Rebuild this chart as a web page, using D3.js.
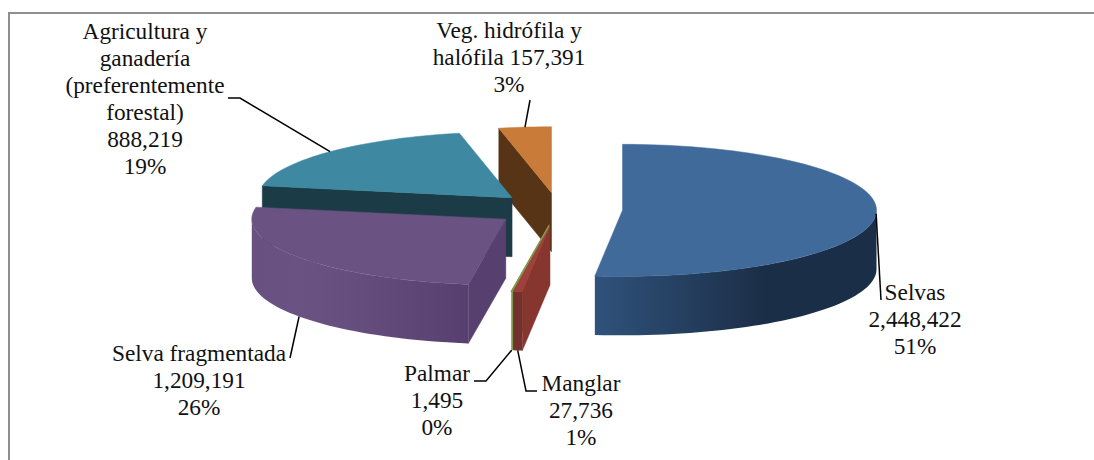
<!DOCTYPE html>
<html>
<head>
<meta charset="utf-8">
<script src="https://cdn.jsdelivr.net/npm/d3@7/dist/d3.min.js"></script>
<style>
html,body{margin:0;padding:0;background:#fff;}
svg{display:block;}
text{font-family:"Liberation Serif","Times New Roman",serif;font-size:23.3px;fill:#111;text-anchor:middle;}
</style>
</head>
<body>
<svg id="chart" width="1094" height="460"></svg>
<script>
// Data (clockwise from 12 o'clock)
const categories = ["Selvas","Manglar","Palmar","Selva fragmentada","Agricultura y ganadería (preferentemente forestal)","Veg. hidrófila y halófila"];
const values = [2448422,27736,1495,1209191,888219,157391];
const percentLabels = ["51%","1%","0%","26%","19%","3%"];
const nameLines = [["Selvas"],["Manglar"],["Palmar"],["Selva fragmentada"],["Agricultura y","ganadería","(preferentemente","forestal)"],["Veg. hidrófila y","halófila"]];

// Styles
const topColors = ["#406a9a","#9e403c","#7f9c4c","#6a5283","#3e88a2","#c97b39"];
const radialWallColors = ["#1b2e47","#86352f","#7f9c4c","#574070","#1b3b47","#573416"];
const outerWallStops = [
  [[0,"#30527b"],[0.6,"#1b2e47"],[1,"#1b2e47"]],
  [[0,"#73302c"],[1,"#73302c"]],
  [[0,"#7f9c4c"],[1,"#7f9c4c"]],
  [[0,"#685080"],[0.22,"#6a5283"],[0.45,"#664e7f"],[1,"#574070"]],
  [[0,"#1b3b47"],[1,"#1b3b47"]],
  [[0,"#573416"],[1,"#573416"]]
];

// Layout
const centre = {x:558.2, y:209.4};
const radiusX = 254, radiusY = 66, depth = 59, explode = 64.4;
const drawOrder = [5,4,0,3,2,1];
const frontAnchor = [false,true,true,true,false,false]; // leader starts at the wall's bottom edge
const labelCentreX = [915,581,437,199,145,509];
const labelFirstBaseline = [300,391,380.5,361,39,38];
const lineStep = 27;
const leaderBends = [[[881,300]],[[526,391],[537,391]],[[486,381],[474,381]],[[290,358]],[[240,98],[228,98]],[[530,100]]];
const valueInline = [false,false,false,false,false,true];

const svg = d3.select("#chart");
const slices = d3.pie().sort(null).value(d=>d)(values);
const fmt = d3.format(",");
const radial = d3.scaleLinear().domain([0,1]);
const scaleX = radial.copy().range([0,radiusX]);
const scaleY = radial.copy().range([0,radiusY]);
const line = d3.line();

const apexOf = s => {
  const mid = (s.startAngle+s.endAngle)/2;
  return [centre.x + explode*Math.sin(mid), centre.y - explode*Math.cos(mid)*radiusY/radiusX];
};
const rimPoint = (s,a,dy=0) => {
  const [ax,ay] = apexOf(s);
  return [ax + scaleX(Math.sin(a)), ay - scaleY(Math.cos(a)) + dy];
};
const arcPoints = (s,a0,a1,dy=0) => {
  const n = Math.max(2, Math.ceil((a1-a0)/(Math.PI/90)));
  return d3.range(n+1).map(i => rimPoint(s, a0+(a1-a0)*i/n, dy));
};

const defs = svg.append("defs");
outerWallStops.forEach((stops,i)=>{
  const g = defs.append("linearGradient").attr("id","wall"+i).attr("x1",0).attr("x2",1).attr("y1",0).attr("y2",0);
  stops.forEach(([o,c])=>g.append("stop").attr("offset",o).attr("stop-color",c));
});

// Frame
svg.append("path").attr("d",line([[1094,13],[9,13],[9,460]]))
   .attr("fill","none").attr("stroke","#8f8f8f").attr("stroke-width",2);

// Slices
const PI = Math.PI;
drawOrder.forEach(i=>{
  const s = slices[i], a0 = s.startAngle, a1 = s.endAngle;
  const apex = apexOf(s);
  const g = svg.append("g").attr("class","slice").datum(categories[i]);
  const thin = i===2;
  const wall = (a)=>{
    const p = rimPoint(s,a);
    g.append("path")
     .attr("d",line([apex,p,[p[0],p[1]+depth],[apex[0],apex[1]+depth]])+"Z")
     .attr("fill",radialWallColors[i])
     .attr("stroke",radialWallColors[i]).attr("stroke-width",thin?1.2:0.5);
  };
  if (Math.sin(a0) < 0) wall(a0);
  if (Math.sin(a1) > 0) wall(a1);
  const f0 = Math.max(a0,PI/2), f1 = Math.min(a1,3*PI/2);
  if (f1>f0 && !thin){
    const pts = arcPoints(s,f0,f1).concat(arcPoints(s,f0,f1,depth).reverse());
    g.append("path").attr("d",line(pts)+"Z").attr("fill",`url(#wall${i})`);
  }
  const top = [apex].concat(arcPoints(s,a0,a1));
  g.append("path").attr("d",line(top)+"Z").attr("fill",topColors[i])
   .attr("stroke",topColors[i]).attr("stroke-width",thin?1.2:0.5);
});

// Leaders
slices.forEach((s,i)=>{
  const mid = (s.startAngle+s.endAngle)/2;
  const start = rimPoint(s,mid,frontAnchor[i]?depth:0);
  svg.append("path").attr("class","leader")
     .attr("d",line([start].concat(leaderBends[i])))
     .attr("fill","none").attr("stroke","#000").attr("stroke-width",1.5);
});

// Labels
values.forEach((v,i)=>{
  const lines = nameLines[i].slice();
  if (valueInline[i]) lines[lines.length-1] += " " + fmt(v);
  else lines.push(fmt(v));
  lines.push(percentLabels[i]);
  const t = svg.append("text").attr("class","label");
  lines.forEach((l,k)=>t.append("tspan").attr("x",labelCentreX[i]).attr("y",labelFirstBaseline[i]+k*lineStep).text(l));
});
</script>
</body>
</html>
